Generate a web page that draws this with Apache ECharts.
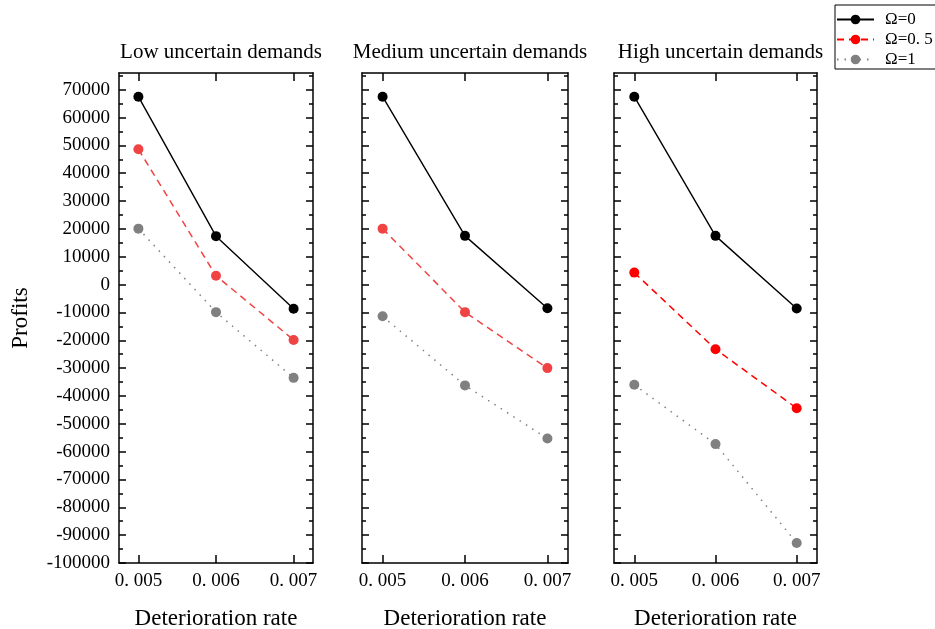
<!DOCTYPE html>
<html>
<head>
<meta charset="utf-8">
<script src="https://cdn.jsdelivr.net/npm/echarts@6/dist/echarts.min.js"></script>
<style>
html, body { margin: 0; padding: 0; background: #fff; }
#main { width: 935px; height: 629px; }
</style>
</head>
<body>
<div id="main"></div>
<script>
// data
var rates = [0.005, 0.006, 0.007];
var rateLabels = ['0. 005', '0. 006', '0. 007'];
var yTicks = [-100000, -90000, -80000, -70000, -60000, -50000, -40000, -30000, -20000, -10000,
              0, 10000, 20000, 30000, 40000, 50000, 60000, 70000];
var panelTitles = ['Low uncertain demands', 'Medium uncertain demands', 'High uncertain demands'];
var seriesNames = ['Ω=0', 'Ω=0. 5', 'Ω=1'];

var lowOmega0 = [67500, 17400, -8700];
var lowOmega05 = [48600, 3200, -19900];
var lowOmega1 = [20100, -9900, -33500];

var medOmega0 = [67500, 17500, -8500];
var medOmega05 = [20100, -9900, -30000];
var medOmega1 = [-11400, -36200, -55300];

var highOmega0 = [67500, 17500, -8600];
var highOmega05 = [4300, -23200, -44400];
var highOmega1 = [-36000, -57300, -92800];

window.onload = function () {
    showChart();
};

function showChart() {
    var myChart = echarts.init(document.getElementById('main'));
    var font = "'Liberation Serif', 'Times New Roman', serif";

    var panels = [
        { left: 119, width: 194, data: [lowOmega0, lowOmega05, lowOmega1], red: '#f04444' },
        { left: 362, width: 206, data: [medOmega0, medOmega05, medOmega1], red: '#f04444' },
        { left: 614, width: 203, data: [highOmega0, highOmega05, highOmega1], red: '#ff0000' }
    ];
    var top = 73, height = 490;

    var grids = [], xAxes = [], yAxes = [], series = [], titles = [];

    panels.forEach(function (p, i) {
        grids.push({ left: p.left, top: top, width: p.width, height: height, outerBoundsMode: 'none', containLabel: false });
        titles.push({
            text: panelTitles[i],
            left: p.left + p.width / 2,
            top: 37,
            textAlign: 'center',
            textStyle: { fontFamily: font, fontSize: 21, fontWeight: 'normal', color: '#000' }
        });

        var axisLine = { show: true, onZero: false, lineStyle: { color: '#000', width: 1.5 } };

        // bottom x axis
        xAxes.push({
            type: 'value', gridIndex: i, position: 'bottom',
            min: 0.00475, max: 0.00725,
            axisLine: axisLine,
            axisTick: { show: true, inside: true, length: 8, customValues: rates, lineStyle: { color: '#000', width: 1.5 } },
            axisLabel: {
                show: true, customValues: rates, margin: 9,
                fontFamily: font, fontSize: 19, color: '#000',
                formatter: function (v) {
                    var k = rates.findIndex(function (r) { return Math.abs(r - v) < 1e-9; });
                    return k >= 0 ? rateLabels[k] : '';
                }
            },
            splitLine: { show: false },
            name: 'Deterioration rate', nameLocation: 'middle', nameGap: 44,
            nameTextStyle: { fontFamily: font, fontSize: 23, color: '#000' }
        });
        // top mirror x axis
        xAxes.push({
            type: 'value', gridIndex: i, position: 'top',
            min: 0.00475, max: 0.00725,
            axisLine: axisLine,
            axisTick: { show: true, inside: true, length: 8, customValues: rates, lineStyle: { color: '#000', width: 1.5 } },
            axisLabel: { show: false },
            splitLine: { show: false }
        });

        var yBase = {
            type: 'value', gridIndex: i,
            min: -100000, max: 76000, interval: 10000,
            axisLine: axisLine,
            axisTick: { show: true, inside: true, length: 7, customValues: yTicks, lineStyle: { color: '#000', width: 1.5 } },
            minorTick: { show: true, splitNumber: 2, length: 4, lineStyle: { color: '#000', width: 1.5 } },
            splitLine: { show: false }
        };
        var yLeft = Object.assign({}, yBase, {
            position: 'left',
            axisLabel: {
                show: i === 0, customValues: yTicks, margin: 9,
                fontFamily: font, fontSize: 19, color: '#000',
                formatter: function (v) { return String(v); }
            }
        });
        if (i === 0) {
            yLeft.name = 'Profits';
            yLeft.nameLocation = 'middle';
            yLeft.nameGap = 87;
            yLeft.nameTextStyle = { fontFamily: font, fontSize: 23, color: '#000' };
        }
        yAxes.push(yLeft);
        yAxes.push(Object.assign({}, yBase, { position: 'right', axisLabel: { show: false } }));

        var styles = [
            { color: '#000000', type: 'solid', width: 1.4 },
            { color: p.red, type: [7, 5], width: 1.5 },
            { color: '#808080', type: [1.5, 6], width: 1.5 }
        ];
        p.data.forEach(function (vals, k) {
            series.push({
                name: seriesNames[k],
                type: 'line',
                xAxisIndex: 2 * i,
                yAxisIndex: 2 * i,
                data: rates.map(function (r, j) { return [r, vals[j]]; }),
                symbol: 'circle',
                symbolSize: 10,
                itemStyle: { color: styles[k].color },
                lineStyle: { color: styles[k].color, type: styles[k].type, width: styles[k].width },
                emphasis: { disabled: true },
                animation: false,
                z: 3 - k
            });
        });
    });

    var option = {
        backgroundColor: '#fff',
        title: titles,
        grid: grids,
        xAxis: xAxes,
        yAxis: yAxes,
        legend: {
            orient: 'vertical',
            left: 835,
            top: 5,
            padding: [6, 30, 1, 1],
            borderColor: '#000',
            borderWidth: 1,
            itemWidth: 37,
            itemHeight: 12,
            itemGap: 3,
            textStyle: { fontFamily: font, fontSize: 17, color: '#000', padding: [0, 0, 0, 6] },
            data: [
                { name: seriesNames[0] },
                { name: seriesNames[1], itemStyle: { color: '#ff0000' }, lineStyle: { color: '#ff0000' } },
                { name: seriesNames[2] }
            ]
        },
        series: series
    };

    myChart.setOption(option);
}
</script>
</body>
</html>
